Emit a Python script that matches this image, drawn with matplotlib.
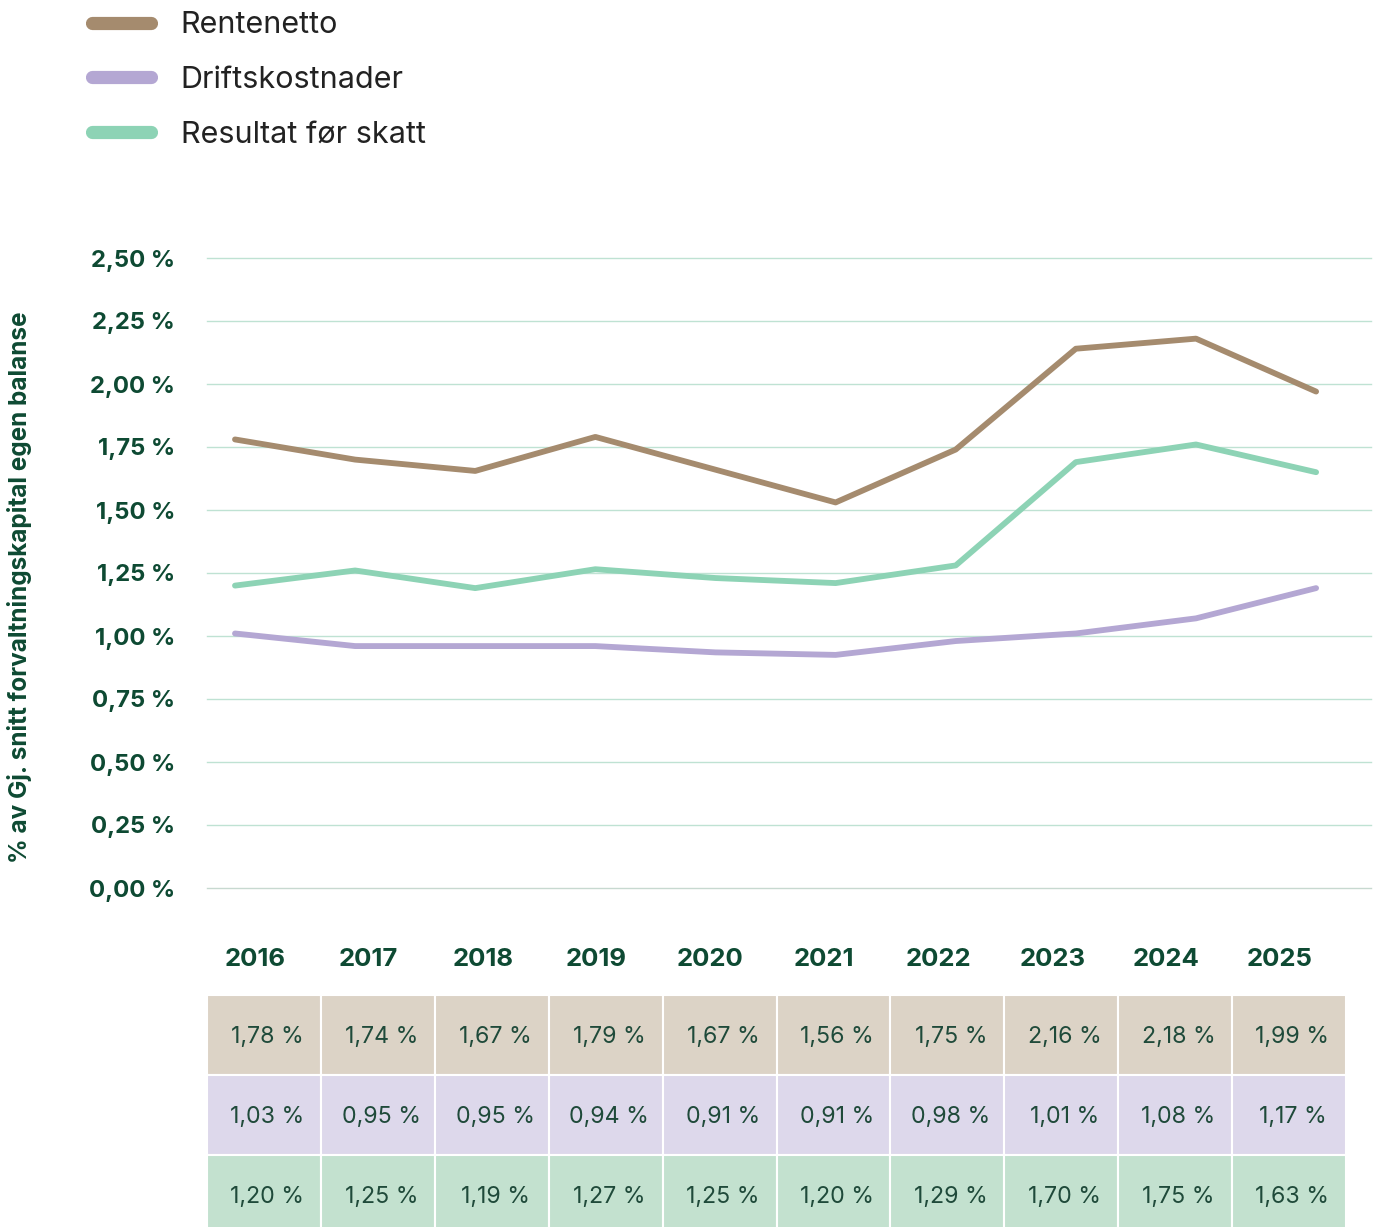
import matplotlib
matplotlib.use("Agg")
import matplotlib.pyplot as plt
from matplotlib.patches import Rectangle

plt.rcParams['font.family'] = ['Inter', 'DejaVu Sans']

# data
years = ['2016', '2017', '2018', '2019', '2020', '2021', '2022', '2023', '2024', '2025']
series_names = ['Rentenetto', 'Driftskostnader', 'Resultat før skatt']
# values as drawn in the line chart
rentenetto = [1.78, 1.70, 1.655, 1.79, 1.66, 1.53, 1.74, 2.14, 2.18, 1.97]
driftskostnader = [1.01, 0.96, 0.96, 0.96, 0.935, 0.925, 0.98, 1.01, 1.07, 1.19]
resultat = [1.20, 1.26, 1.19, 1.265, 1.23, 1.21, 1.28, 1.69, 1.76, 1.65]
# values shown in the table
tab_rentenetto = ['1,78 %', '1,74 %', '1,67 %', '1,79 %', '1,67 %', '1,56 %', '1,75 %', '2,16 %', '2,18 %', '1,99 %']
tab_drift = ['1,03 %', '0,95 %', '0,95 %', '0,94 %', '0,91 %', '0,91 %', '0,98 %', '1,01 %', '1,08 %', '1,17 %']
tab_resultat = ['1,20 %', '1,25 %', '1,19 %', '1,27 %', '1,25 %', '1,20 %', '1,29 %', '1,70 %', '1,75 %', '1,63 %']
yticks = [0, 0.25, 0.5, 0.75, 1.0, 1.25, 1.5, 1.75, 2.0, 2.25, 2.5]
ytick_labels = ['0,00 %', '0,25 %', '0,50 %', '0,75 %', '1,00 %', '1,25 %', '1,50 %', '1,75 %', '2,00 %', '2,25 %', '2,50 %']

line_colors = ['#a58b6e', '#b4a7d3', '#8dd3b5']
cell_colors = ['#dcd3c6', '#ddd8eb', '#c3e1cf']
dark_green = '#0e4a33'
text_green = '#1f4a3a'

W, H = 1379, 1227
fig = plt.figure(figsize=(W / 100, H / 100), dpi=100)

# main chart
ax = fig.add_axes([207 / W, 1 - 888 / H, 1164 / W, 630 / H])
x = list(range(len(years)))
for vals, name, col in zip([rentenetto, driftskostnader, resultat], series_names, line_colors):
    ax.plot(x, vals, color=col, lw=4.2, solid_capstyle='round', solid_joinstyle='round',
            label=name, zorder=3)
ax.set_xlim(-0.233, 9.457)
ax.set_ylim(0, 2.5)
ax.set_yticks(yticks)
ax.set_yticklabels(ytick_labels, fontsize=17.2, fontweight='bold', color=dark_green)
ax.set_xticks([])
ax.tick_params(axis='y', length=0, pad=23)
for s in ax.spines.values():
    s.set_visible(False)
for t in yticks:
    ax.axhline(t, color='#c7d9d0' if t == 0 else '#bfe2d3', lw=1.0, zorder=1, clip_on=False)
ax.set_ylabel('% av Gj. snitt forvaltningskapital egen balanse', fontsize=17.5,
              fontweight='bold', color=dark_green, labelpad=0)
ax.yaxis.set_label_coords(-175 / 1164, 0.478)

leg = ax.legend(loc='upper left', bbox_to_anchor=(80 / W, 1 + 1 / H), bbox_transform=fig.transFigure,
                frameon=False, fontsize=22, handlelength=1.93, handletextpad=0.96,
                labelspacing=0.88, borderaxespad=0)
for h in leg.get_lines():
    h.set_linewidth(9.5)
    h.set_solid_capstyle('round')
for t in leg.get_texts():
    t.set_color('#222222')

# table
tax = fig.add_axes([207 / W, 1 - 1235 / H, 1139 / W, 240 / H])
tax.set_xlim(0, 10)
tax.set_ylim(3, 0)
tax.axis('off')
rows = [tab_rentenetto, tab_drift, tab_resultat]
for r, (row, cc) in enumerate(zip(rows, cell_colors)):
    for c, lab in enumerate(row):
        tax.add_patch(Rectangle((c, r), 1, 1, facecolor=cc, edgecolor='white', lw=1.5))
        tax.text(c + 0.53, r + 0.53, lab, ha='center', va='center', fontsize=16.7, color=text_green)
for c, yr in enumerate(years):
    tax.text(c + 0.42, -0.45, yr, ha='center', va='center', fontsize=18.5, fontweight='bold',
             color=dark_green, clip_on=False)

fig.savefig('out.png', dpi=100)
